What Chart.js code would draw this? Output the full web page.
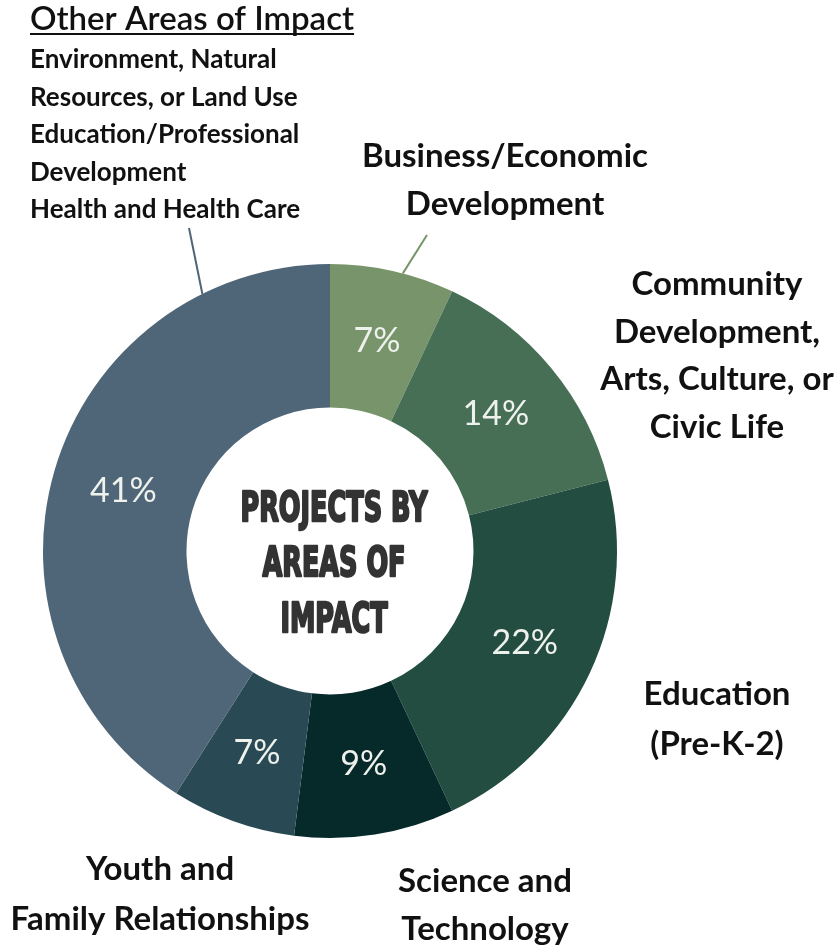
<!DOCTYPE html>
<html>
<head>
<meta charset="utf-8">
<title>Projects by Areas of Impact</title>
<script src="https://cdn.jsdelivr.net/npm/chart.js@4.4.1/dist/chart.umd.min.js"></script>
<style>
    html, body { margin: 0; padding: 0; background: #fff; }
    #wrap { width: 837px; height: 947px; }
</style>
</head>
<body>
<div id="wrap"><canvas id="impactChart" width="837" height="947"></canvas></div>
<script>
// chart data
const categories = [
    'Business/Economic Development',
    'Community Development, Arts, Culture, or Civic Life',
    'Education (Pre-K-2)',
    'Science and Technology',
    'Youth and Family Relationships',
    'Other Areas of Impact'
];
const shares = [7, 14, 22, 9, 7, 41];
const labelLines = [
    ['Business/Economic', 'Development'],
    ['Community', 'Development,', 'Arts, Culture, or', 'Civic Life'],
    ['Education', '(Pre-K-2)'],
    ['Science and', 'Technology'],
    ['Youth and', 'Family Relationships'],
    []
];
const otherTitle = 'Other Areas of Impact';
const otherAreas = ['Environment, Natural', 'Resources, or Land Use', 'Education/Professional', 'Development', 'Health and Health Care'];
const centerLines = ['PROJECTS BY', 'AREAS OF', 'IMPACT'];

const sliceColors = ['#77946a', '#466f56', '#234d40', '#06292a', '#294a55', '#4f6678'];

// where the outside labels sit: center x, first baseline, line step
const labelSpots = [
    { x: 505, y: 167, step: 48 },
    { x: 717, y: 295, step: 47.5 },
    { x: 717, y: 705, step: 50 },
    { x: 485, y: 892, step: 48 },
    { x: 160, y: 880, step: 50 },
    null
];
// leader lines: start point and angle (deg from top, clockwise) on the ring edge
const leaders = [
    { index: 0, x: 427, y: 235, deg: 14.7 },
    { index: 5, x: 189, y: 228, deg: 333.6 }
];

const labelPlugin = {
    id: 'impactLabels',
    afterDraw(chart) {
        const ctx = chart.ctx;
        const meta = chart.getDatasetMeta(0);
        const arc0 = meta.data[0];
        const cx = arc0.x, cy = arc0.y;
        ctx.save();

        // percent labels inside slices
        ctx.fillStyle = '#eef1ec';
        ctx.font = '34px Lato';
        ctx.textAlign = 'center';
        ctx.textBaseline = 'middle';
        meta.data.forEach(function (arc, i) {
            const p = arc.tooltipPosition();
            ctx.fillText(shares[i] + '%', p.x, p.y);
        });

        // leader lines
        ctx.lineWidth = 2;
        leaders.forEach(function (l) {
            const arc = meta.data[l.index];
            const a = l.deg * Math.PI / 180 - Math.PI / 2;
            ctx.strokeStyle = sliceColors[l.index];
            ctx.beginPath();
            ctx.moveTo(l.x, l.y);
            ctx.lineTo(cx + arc.outerRadius * Math.cos(a), cy + arc.outerRadius * Math.sin(a));
            ctx.stroke();
        });

        // outside category labels
        ctx.fillStyle = '#111';
        ctx.font = 'bold 33px Lato';
        ctx.textBaseline = 'alphabetic';
        labelLines.forEach(function (lines, i) {
            const s = labelSpots[i];
            if (!s) return;
            lines.forEach(function (t, j) {
                ctx.fillText(t, s.x, s.y + j * s.step);
            });
        });

        // "other areas" list, top left
        ctx.textAlign = 'left';
        ctx.font = '600 33px Lato';
        ctx.fillText(otherTitle, 30, 30);
        const w = ctx.measureText(otherTitle).width;
        ctx.fillRect(30, 33, w, 2);
        ctx.font = 'bold 26px Lato';
        otherAreas.forEach(function (t, j) {
            ctx.fillText(t, 30, 68 + j * 37.5);
        });

        // condensed title in the hole
        ctx.fillStyle = '#333';
        ctx.strokeStyle = '#333';
        ctx.lineWidth = 2.5;
        ctx.lineJoin = 'round';
        ctx.font = 'bold 40px "DejaVu Sans"';
        ctx.textAlign = 'center';
        ctx.textBaseline = 'middle';
        const squeeze = 187 / ctx.measureText(centerLines[0]).width;
        centerLines.forEach(function (t, j) {
            ctx.save();
            ctx.translate(cx + 4, cy + 15 + (j - 1) * 55.5);
            ctx.scale(squeeze, 1);
            ctx.fillText(t, 0, 0);
            ctx.strokeText(t, 0, 0);
            ctx.restore();
        });

        ctx.restore();
    }
};

const ctx = document.getElementById('impactChart').getContext('2d');
new Chart(ctx, {
    type: 'doughnut',
    data: {
        labels: categories,
        datasets: [{
            data: shares,
            backgroundColor: sliceColors,
            borderWidth: 0
        }]
    },
    options: {
        responsive: false,
        animation: false,
        cutout: '50%',
        layout: { padding: { left: 43, right: 220, top: 264, bottom: 109 } },
        plugins: {
            legend: { display: false },
            tooltip: { enabled: false }
        }
    },
    plugins: [labelPlugin]
});
</script>
</body>
</html>
